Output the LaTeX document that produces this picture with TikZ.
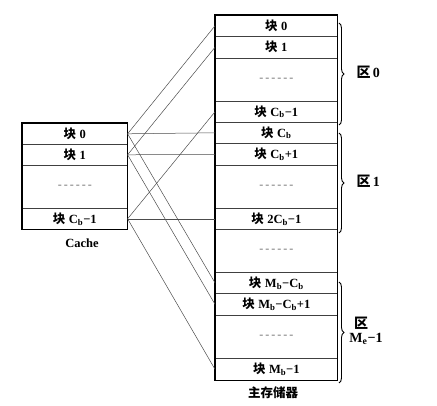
\documentclass[tikz,border=0pt]{standalone}
\usepackage{fontspec}
\setmainfont{Liberation Serif}
\newfontfamily\cjk{Noto Sans CJK SC}
\usetikzlibrary{decorations.pathreplacing}
\newcommand{\kuai}{{\cjk\bfseries 块}\kern3.5pt}
\newcommand{\qu}{{\cjk\bfseries 区}}
\newcommand{\mysb}[1]{\textsubscript{#1}}
\newcommand{\dashrow}{-\kern2pt-\kern2pt-\kern2pt-\kern2pt-\kern2pt-}
\begin{document}
\begin{tikzpicture}[x=1pt,y=-1pt,
  mrow/.style={draw=black!75, line width=0.6pt, minimum width=122pt, inner sep=0pt, anchor=north west, font=\fontsize{12.5}{14}\selectfont\bfseries},
  crow/.style={mrow, minimum width=105pt},
  dots/.style={text=black!55, font=\fontsize{12}{14}\selectfont},
  frame/.style={draw=black, line width=1.3pt},
  link/.style={draw=black!70, line width=0.5pt},
  brc/.style={draw=black, line width=0.9pt, decorate, decoration={brace, amplitude=5pt}},
  lab/.style={font=\fontsize{12.5}{14}\selectfont\bfseries}
]
\useasboundingbox (0,0) rectangle (437,406);
% main memory
\node[mrow, minimum height=21pt] (m0) at (215,15) {\kuai 0};
\node[mrow, minimum height=22pt] (m1) at (215,36) {\kuai 1};
\node[mrow, minimum height=43pt] (md1) at (215,58) {};
\node[dots] (t1) at (md1.center) {\dashrow};
\node[mrow, minimum height=21pt] (mc1) at (215,101) {\kuai C\mysb{b}−1};
\node[mrow, minimum height=21pt] (mcb) at (215,122) {\kuai C\mysb{b}};
\node[mrow, minimum height=22pt] (mcb1) at (215,143) {\kuai C\mysb{b}+1};
\node[mrow, minimum height=43pt] (md2) at (215,165) {};
\node[dots] (t2) at (md2.center) {\dashrow};
\node[mrow, minimum height=21pt] (m2cb) at (215,208) {\kuai 2C\mysb{b}−1};
\node[mrow, minimum height=43pt] (md3) at (215,229) {};
\node[dots] (t3) at (md3.center) {\dashrow};
\node[mrow, minimum height=21pt] (mmc) at (215,272) {\kuai M\mysb{b}−C\mysb{b}};
\node[mrow, minimum height=22pt] (mmc1) at (215,293) {\kuai M\mysb{b}−C\mysb{b}+1};
\node[mrow, minimum height=43pt] (md4) at (215,315) {};
\node[dots] (t4) at (md4.center) {\dashrow};
\node[mrow, minimum height=22pt] (mmb) at (215,358) {\kuai M\mysb{b}−1};
\draw[frame] (m0.north west) rectangle (mmb.south east);
\node[lab] (mlab) at (273,393) {{\cjk\bfseries 主存储器}};
% cache
\node[crow, minimum height=21pt] (c0) at (22,123) {\kuai 0};
\node[crow, minimum height=21pt] (c1) at (22,144) {\kuai 1};
\node[crow, minimum height=43pt] (cd) at (22,165) {};
\node[dots] (t5) at (cd.center) {\dashrow};
\node[crow, minimum height=21pt] (cc) at (22,208) {\kuai C\mysb{b}−1};
\draw[frame] (c0.north west) rectangle (cc.south east);
\node[lab] (clab) at (82,243) {Cache};
% links
\draw[link] (c0.east) -- (m0.west);
\draw[link] (c0.east) -- (mcb.west);
\draw[link] (c0.east) -- (mmc.west);
\draw[link] (c1.east) -- (m1.west);
\draw[link] (c1.east) -- (mcb1.west);
\draw[link] (c1.east) -- (mmc1.west);
\draw[link] (cc.east) -- (mc1.west);
\draw[link] (cc.east) -- (m2cb.west);
\draw[link] (cc.east) -- (mmb.west);
% braces
\draw[brc] (339,23) -- (339,125);
\draw[brc] (339,133) -- (339,233);
\draw[brc] (339,282) -- (339,383);
\node[lab, anchor=west, font=\fontsize{14}{16}\selectfont\bfseries] (q0) at (353,72) {\qu\,0};
\node[lab, anchor=west, font=\fontsize{14}{16}\selectfont\bfseries] (q1) at (353,181) {\qu\,1};
\node[lab, font=\fontsize{14}{16}\selectfont\bfseries] (q2) at (361,323) {\qu};
\node[lab, font=\fontsize{14}{16}\selectfont\bfseries] (q3) at (366,339) {M\mysb{e}−1};
\end{tikzpicture}
\end{document}
